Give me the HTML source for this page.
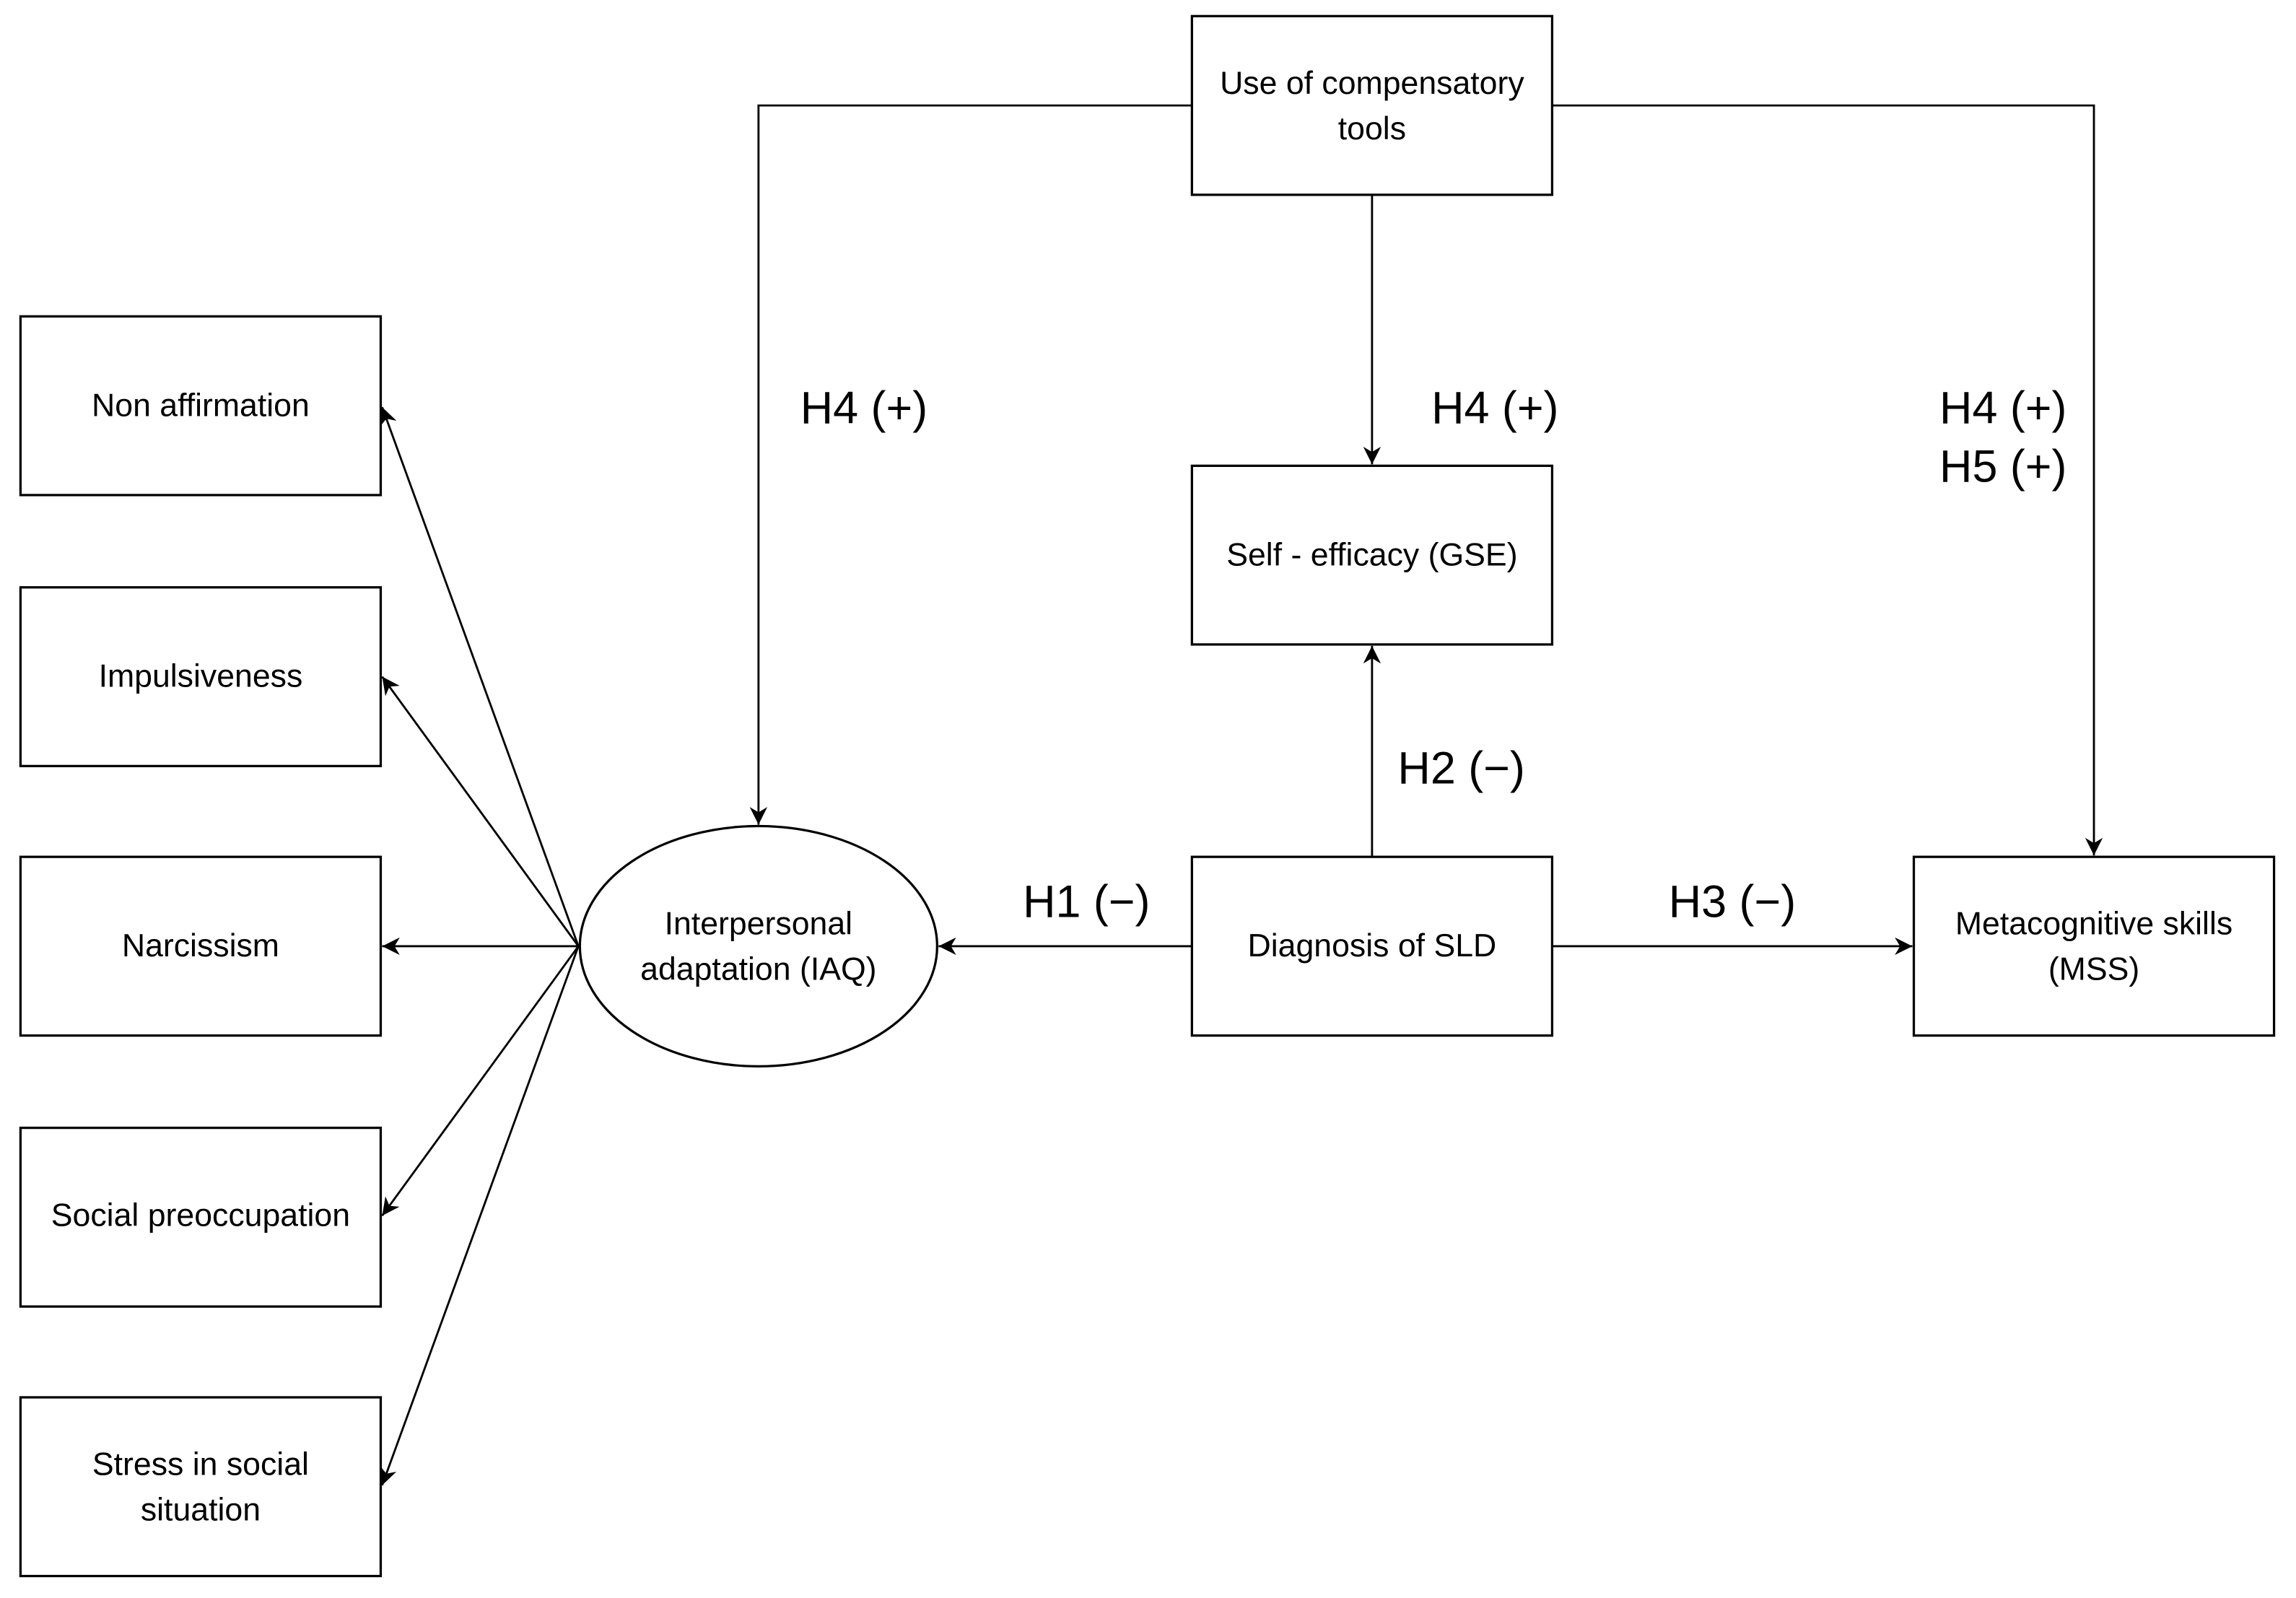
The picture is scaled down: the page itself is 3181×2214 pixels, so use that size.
<!DOCTYPE html>
<html><head><meta charset="utf-8"><style>
html,body{margin:0;padding:0;background:#fff;}
svg{display:block;}
text{font-family:"Liberation Sans",sans-serif;fill:#000;}
</style></head><body>
<svg width="3181" height="2214" viewBox="0 0 1568 1091" preserveAspectRatio="none" xmlns="http://www.w3.org/2000/svg">
<defs>
<marker id="a" viewBox="0 0 10 10" refX="10" refY="5" markerWidth="9" markerHeight="9" markerUnits="userSpaceOnUse" orient="auto"><path d="M0,0 L10,5 L0,10 L3,5 z" fill="#000"/></marker>
<marker id="b" viewBox="0 0 10 10" refX="10" refY="5" markerWidth="12" markerHeight="12" markerUnits="userSpaceOnUse" orient="auto"><path d="M0,0 L10,5 L0,10 L3,5 z" fill="#000"/></marker>
</defs>
<g fill="none" stroke="#000" stroke-width="1.6">
<rect x="814" y="11" width="246" height="122"/>
<rect x="14" y="216" width="246" height="122"/>
<rect x="14" y="401" width="246" height="122"/>
<rect x="14" y="585" width="246" height="122"/>
<rect x="14" y="770" width="246" height="122"/>
<rect x="14" y="954" width="246" height="122"/>
<rect x="814" y="318" width="246" height="122"/>
<rect x="814" y="585" width="246" height="122"/>
<rect x="1307" y="585" width="246" height="122"/>
<ellipse cx="518" cy="646" rx="122" ry="82"/>
</g>
<g fill="none" stroke="#000" stroke-width="1.4">
<polyline points="814,72 518,72 518,563" marker-end="url(#b)"/>
<polyline points="1060,72 1430,72 1430,584" marker-end="url(#b)"/>
<line x1="937" y1="133" x2="937" y2="317" marker-end="url(#b)"/>
<line x1="937" y1="585" x2="937" y2="441" marker-end="url(#b)"/>
<line x1="814" y1="646" x2="641" y2="646" marker-end="url(#b)"/>
<line x1="1060" y1="646" x2="1306" y2="646" marker-end="url(#b)"/>
<line x1="395" y1="646" x2="261" y2="278" marker-end="url(#b)"/>
<line x1="395" y1="646" x2="261" y2="462" marker-end="url(#b)"/>
<line x1="395" y1="646" x2="261" y2="646" marker-end="url(#b)"/>
<line x1="395" y1="646" x2="261" y2="830" marker-end="url(#b)"/>
<line x1="395" y1="646" x2="261" y2="1014" marker-end="url(#b)"/>
</g>
<g font-size="22" text-anchor="middle">
<text x="937" y="64">Use of compensatory</text>
<text x="937" y="95">tools</text>
<text x="137" y="284">Non affirmation</text>
<text x="137" y="469">Impulsiveness</text>
<text x="137" y="653">Narcissism</text>
<text x="137" y="837">Social preoccupation</text>
<text x="137" y="1007">Stress in social</text>
<text x="137" y="1038">situation</text>
<text x="937" y="386">Self - efficacy (GSE)</text>
<text x="937" y="653">Diagnosis of SLD</text>
<text x="1430" y="638">Metacognitive skills</text>
<text x="1430" y="669">(MSS)</text>
<text x="518" y="638">Interpersonal</text>
<text x="518" y="669">adaptation (IAQ)</text>
</g>
<g font-size="31" text-anchor="middle">
<text x="590" y="289">H4 (+)</text>
<text x="1021" y="289">H4 (+)</text>
<text x="1368" y="289">H4 (+)</text>
<text x="1368" y="329">H5 (+)</text>
<text x="998" y="535">H2 (−)</text>
<text x="742" y="626">H1 (−)</text>
<text x="1183" y="626">H3 (−)</text>
</g>
</svg>
</body></html>
